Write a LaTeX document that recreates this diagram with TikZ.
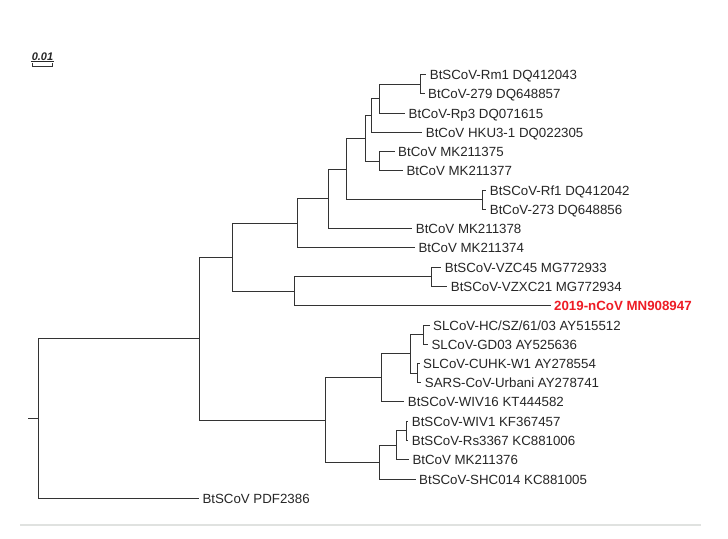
\documentclass[tikz,border=0pt]{standalone}
\usepackage{fontspec}
\setmainfont{Liberation Sans}
\definecolor{linec}{HTML}{333333}
\definecolor{txt}{HTML}{262626}
\definecolor{hilite}{HTML}{EE1C25}
\definecolor{rulec}{HTML}{E0E2E0}
\begin{document}
\begin{tikzpicture}[x=1pt,y=-1pt]
\tikzset{
  br/.style={draw=linec, line width=1.8pt},
  leaf/.style={anchor=west, inner xsep=3.5pt, inner ysep=0pt, text=txt,
    font=\fontsize{13.3}{14}\selectfont, text height=9.5pt, text depth=0pt},
  hot/.style={leaf, text=hilite, font=\fontsize{13.3}{14}\selectfont\bfseries},
}
\fill[white] (0,0) rectangle (728,538);
\useasboundingbox (0,0) rectangle (728,538);

% scale bar
\node[inner sep=0.6pt, text=txt, font=\fontsize{11}{12}\selectfont\bfseries\itshape] (sbt) at (42.5,56.3) {0.01};
\draw[line width=0.9pt, draw=txt] (sbt.south west) -- (sbt.south east);
\coordinate (sbA) at (32.5,63);
\coordinate (sbB) at (52.5,63);
\draw[br] (sbA) -- ++(0,3.5) -| (sbB);

% leaves
\node[leaf] (l0)  at (426.2,74.5)  {BtSCoV-Rm1 DQ412043};
\node[leaf] (l1)  at (424.5,93.5)  {BtCoV-279 DQ648857};
\node[leaf] (l2)  at (405.0,113.5) {BtCoV-Rp3 DQ071615};
\node[leaf] (l3)  at (422.2,132.5) {BtCoV HKU3-1 DQ022305};
\node[leaf] (l4)  at (394.5,151.5) {BtCoV MK211375};
\node[leaf] (l5)  at (402.8,170.5) {BtCoV MK211377};
\node[leaf] (l6)  at (486.2,190.5) {BtSCoV-Rf1 DQ412042};
\node[leaf] (l7)  at (486.2,209.5) {BtCoV-273 DQ648856};
\node[leaf] (l8)  at (412.2,228.5) {BtCoV MK211378};
\node[leaf] (l9)  at (414.8,247.5) {BtCoV MK211374};
\node[leaf] (l10) at (441.2,267.5) {BtSCoV-VZC45 MG772933};
\node[leaf] (l11) at (447.2,286.5) {BtSCoV-VZXC21 MG772934};
\node[hot]  (l12) at (550.5,305.5) {2019-nCoV MN908947};
\node[leaf] (l13) at (429.5,325.5) {SLCoV-HC/SZ/61/03 AY515512};
\node[leaf] (l14) at (427.8,344.5) {SLCoV-GD03 AY525636};
\node[leaf] (l15) at (419.5,363.5) {SLCoV-CUHK-W1 AY278554};
\node[leaf] (l16) at (421.2,382.5) {SARS-CoV-Urbani AY278741};
\node[leaf] (l17) at (404.2,401.5) {BtSCoV-WIV16 KT444582};
\node[leaf] (l18) at (408.2,421.5) {BtSCoV-WIV1 KF367457};
\node[leaf] (l19) at (408.2,440.5) {BtSCoV-Rs3367 KC881006};
\node[leaf] (l20) at (408.8,459.5) {BtCoV MK211376};
\node[leaf] (l21) at (415.5,479.5) {BtSCoV-SHC014 KC881005};
\node[leaf] (l22) at (198.8,498.5) {BtSCoV PDF2386};

% internal nodes
\coordinate (A)  at (420.5,84.5);
\coordinate (B)  at (379.5,98.5);
\coordinate (C)  at (371.5,115.5);
\coordinate (K)  at (379.5,161.5);
\coordinate (D)  at (365.5,138.5);
\coordinate (R)  at (482.5,199.5);
\coordinate (E)  at (346.5,169.5);
\coordinate (F)  at (328.5,198.5);
\coordinate (G)  at (297.5,223.5);
\coordinate (V)  at (431.5,276.5);
\coordinate (W)  at (294.5,291.5);
\coordinate (H)  at (232.5,257.5);
\coordinate (S1) at (423.5,334.5);
\coordinate (S2) at (417.5,373.5);
\coordinate (S3) at (410.5,353.5);
\coordinate (S4) at (381.5,377.5);
\coordinate (T1) at (406.5,430.5);
\coordinate (T2) at (396.5,445.5);
\coordinate (T3) at (379.5,462.5);
\coordinate (U)  at (325.5,420.5);
\coordinate (I)  at (199.5,338.5);
\coordinate (root) at (38.5,418.5);
\coordinate (stub) at (28.0,418.5);

% branches
\draw[br] (A) |- (l0.west);  \draw[br] (A) |- (l1.west);
\draw[br] (B) |- (A);        \draw[br] (B) |- (l2.west);
\draw[br] (C) |- (B);        \draw[br] (C) |- (l3.west);
\draw[br] (K) |- (l4.west);  \draw[br] (K) |- (l5.west);
\draw[br] (D) |- (C);        \draw[br] (D) |- (K);
\draw[br] (R) |- (l6.west);  \draw[br] (R) |- (l7.west);
\draw[br] (E) |- (D);        \draw[br] (E) |- (R);
\draw[br] (F) |- (E);        \draw[br] (F) |- (l8.west);
\draw[br] (G) |- (F);        \draw[br] (G) |- (l9.west);
\draw[br] (V) |- (l10.west); \draw[br] (V) |- (l11.west);
\draw[br] (W) |- (V);        \draw[br] (W) |- (l12.west);
\draw[br] (H) |- (G);        \draw[br] (H) |- (W);
\draw[br] (S1) |- (l13.west); \draw[br] (S1) |- (l14.west);
\draw[br] (S2) |- (l15.west); \draw[br] (S2) |- (l16.west);
\draw[br] (S3) |- (S1);       \draw[br] (S3) |- (S2);
\draw[br] (S4) |- (S3);       \draw[br] (S4) |- (l17.west);
\draw[br] (T1) |- (l18.west); \draw[br] (T1) |- (l19.west);
\draw[br] (T2) |- (T1);       \draw[br] (T2) |- (l20.west);
\draw[br] (T3) |- (T2);       \draw[br] (T3) |- (l21.west);
\draw[br] (U) |- (S4);        \draw[br] (U) |- (T3);
\draw[br] (I) |- (H);         \draw[br] (I) |- (U);
\draw[br] (root) |- (I);      \draw[br] (root) |- (l22.west);
\draw[br] (stub) -- (root);

% bottom rule
\coordinate (ruleL) at (20,525);
\coordinate (ruleR) at (701,525);
\draw[draw=rulec, line width=2pt] (ruleL) -- (ruleR);
\end{tikzpicture}
\end{document}
